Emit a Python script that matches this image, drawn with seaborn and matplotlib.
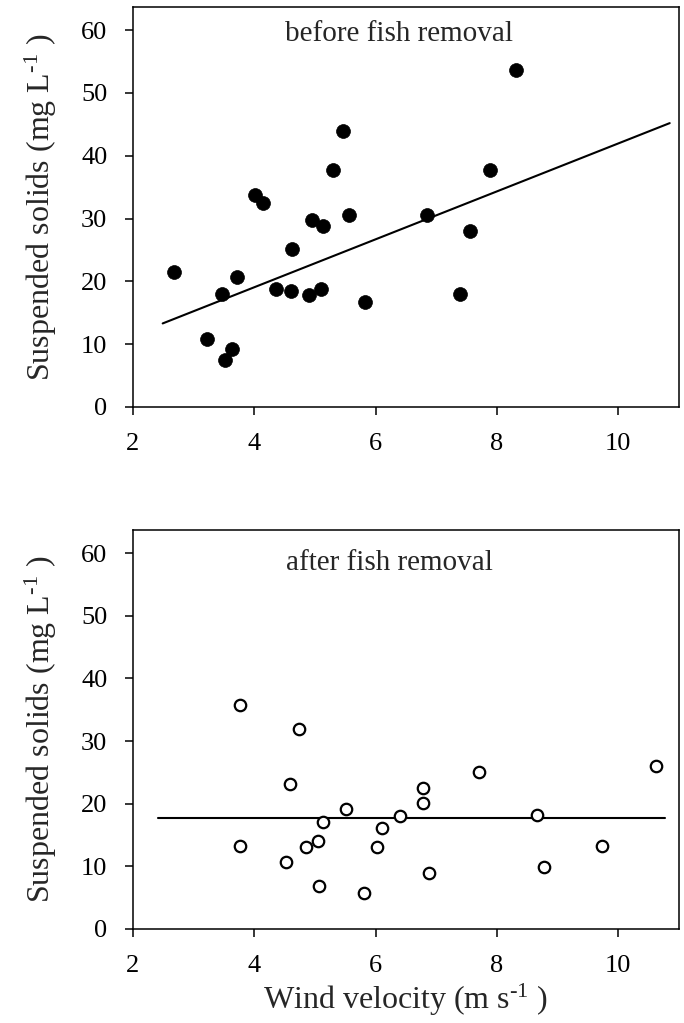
import numpy as np
import pandas as pd
import seaborn as sns
import matplotlib
matplotlib.use('Agg')
import matplotlib.pyplot as plt

# gio / chat ran lo lung truoc khi bat ca
wind_before = [2.68, 3.22, 3.46, 3.52, 3.63, 3.71, 4.01, 4.14, 4.36, 4.63, 4.61, 4.91,
               4.96, 5.10, 5.13, 5.29, 5.46, 5.56, 5.83, 6.85, 7.39, 7.56, 7.89, 8.32]
ss_before = [21.5, 10.9, 18.0, 7.5, 9.2, 20.7, 33.8, 32.5, 18.8, 25.1, 18.5, 17.9,
             29.7, 18.8, 28.8, 37.8, 43.9, 30.6, 16.7, 30.6, 18.0, 28.0, 37.8, 53.7]

# sau khi bat ca
wind_after = [3.77, 4.74, 4.59, 3.77, 4.53, 4.85, 5.05, 5.13, 5.06, 5.52, 5.81,
              6.02, 6.10, 6.41, 6.78, 6.79, 6.88, 7.70, 8.67, 8.77, 9.73, 10.63]
ss_after = [35.8, 31.9, 23.1, 13.3, 10.7, 13.1, 14.1, 17.1, 6.9, 19.1, 5.8,
            13.1, 16.1, 18.0, 20.1, 22.5, 8.9, 25.1, 18.2, 9.9, 13.2, 26.0]

# duong hoi quy (diem dau, diem cuoi)
fit_x_before = [2.49, 10.85]
fit_y_before = [13.3, 45.2]
fit_x_after = [2.42, 10.78]
fit_y_after = [17.7, 17.7]

x_ticks = [2, 4, 6, 8, 10]
y_ticks = [0, 10, 20, 30, 40, 50, 60]

df_before = pd.DataFrame({'wind': wind_before, 'ss': ss_before})
df_after = pd.DataFrame({'wind': wind_after, 'ss': ss_after})

sns.set_style('ticks')
plt.rcParams['font.family'] = ['Liberation Serif', 'DejaVu Serif']
plt.rcParams['mathtext.fontset'] = 'custom'
plt.rcParams['mathtext.rm'] = 'Liberation Serif'
plt.rcParams['mathtext.it'] = 'Liberation Serif:italic'

fig = plt.figure(figsize=(6.84, 10.23), dpi=100)
ax1 = fig.add_axes([0.1944, 0.6022, 0.798, 0.391])
ax2 = fig.add_axes([0.1944, 0.0919, 0.798, 0.390])

sns.scatterplot(x='wind', y='ss', data=df_before, ax=ax1, color='black',
                s=100, edgecolor='black', linewidth=0.5, zorder=3)
sns.lineplot(x=fit_x_before, y=fit_y_before, ax=ax1, color='black', linewidth=1.5)

sns.scatterplot(x='wind', y='ss', data=df_after, ax=ax2, facecolor='white',
                s=68, edgecolor='black', linewidth=1.6, zorder=3)
sns.lineplot(x=fit_x_after, y=fit_y_after, ax=ax2, color='black', linewidth=1.5)

for ax in [ax1, ax2]:
    ax.set_xlim(2, 11)
    ax.set_ylim(0, 63.7)
    ax.set_xticks(x_ticks)
    ax.set_yticks(y_ticks)
    ax.tick_params(direction='out', length=6, width=1.1, labelsize=19, pad=12.5, colors='black')
    for sp in ax.spines.values():
        sp.set_visible(True)
        sp.set_linewidth(1.1)
        sp.set_color('black')
    ax.set_ylabel('Suspended solids (mg L$^{\u20101}$ )', fontsize=23, labelpad=16)
    ax.set_xlabel('')

ax1.text(0.487, 0.915, 'before fish removal', transform=ax1.transAxes,
         ha='center', va='baseline', fontsize=21)
ax2.text(0.47, 0.90, 'after fish removal', transform=ax2.transAxes,
         ha='center', va='baseline', fontsize=21)
ax2.set_xlabel('Wind velocity (m s$^{\u20101}$ )', fontsize=23, labelpad=4)

plt.savefig('out.png', dpi=100)
